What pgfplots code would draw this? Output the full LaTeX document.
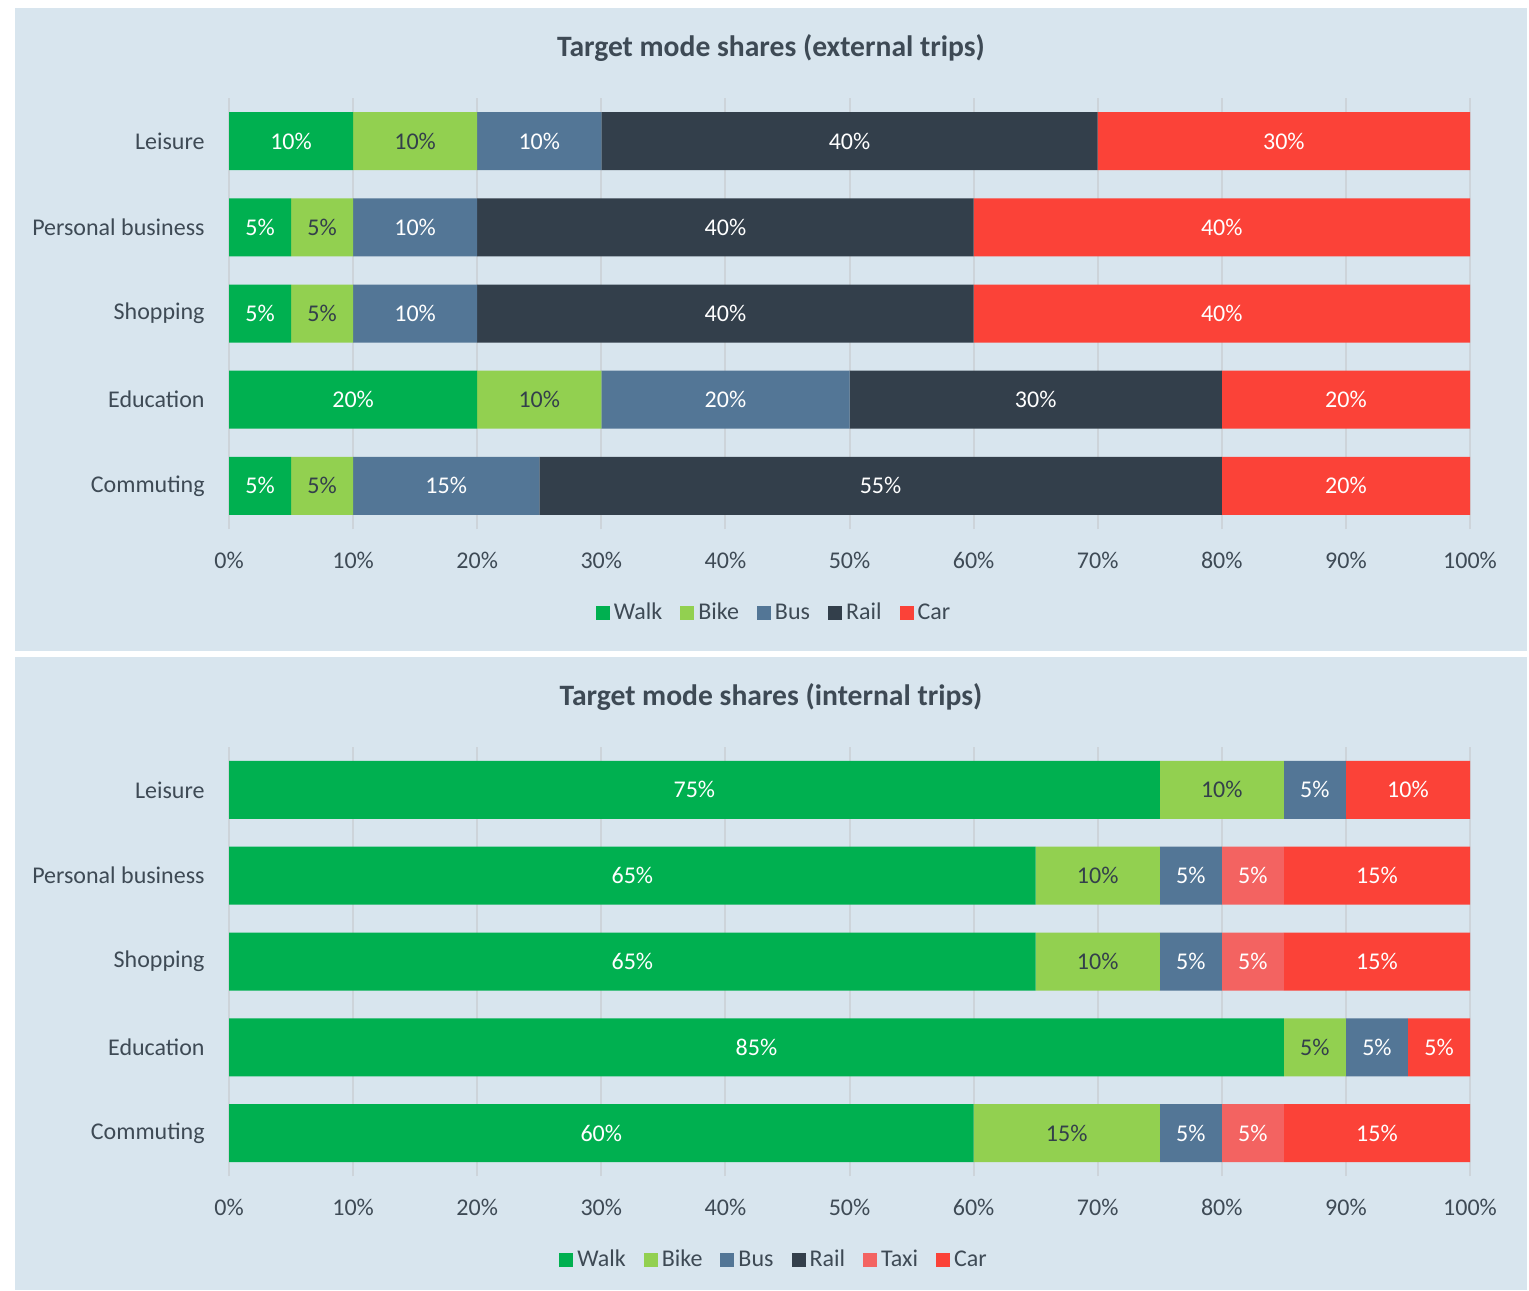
\documentclass[border=0pt]{standalone}
\usepackage{fontspec}
\setmainfont{Carlito}
\usepackage{pgfplots}
\pgfplotsset{compat=1.18}
\usepackage{pgfplotstable}

\definecolor{walkc}{HTML}{00B050}
\definecolor{bikec}{HTML}{92D050}
\definecolor{busc}{HTML}{537696}
\definecolor{railc}{HTML}{333F4B}
\definecolor{taxic}{HTML}{F36361}
\definecolor{carc}{HTML}{FB4238}
\definecolor{bgc}{HTML}{D8E5EE}
\definecolor{gridc}{HTML}{CDD4DA}
\definecolor{textc}{HTML}{3E4A55}

\pgfplotstableread{
cat Walk Bike Bus Rail Car
0 5 5 15 55 20
1 20 10 20 30 20
2 5 5 10 40 40
3 5 5 10 40 40
4 10 10 10 40 30
}\extdata

\pgfplotstableread{
cat Walk Bike Bus Taxi Car
0 60 15 5 5 15
1 85 5 5 0 5
2 65 10 5 5 15
3 65 10 5 5 15
4 75 10 5 0 10
}\intdata

\pgfplotsset{
  sqlegend/.style={legend image code/.code={\fill[##1] (0pt,-3.5pt) rectangle (7pt,3.5pt);}},
  modeaxis/.style={
    xbar stacked,
    scale only axis,
    width=620.5pt,
    xmin=0, xmax=100, ymin=-0.5, ymax=4.5,
    bar width=29pt,
    ytick={0,...,4},
    yticklabels={Commuting,Education,Shopping,Personal business,Leisure},
    xtick={0,10,...,100},
    xticklabel={\pgfmathprintnumber{\tick}\%},
    /pgf/number format/assume math mode=true,
    axis line style={draw=none},
    major tick length=0pt,
    tick style={draw=none},
    xmajorgrids,
    grid style={gridc, line width=1pt},
    tick label style={font=\fontsize{12}{14}\selectfont, text=textc},
    xticklabel style={anchor=center, inner sep=0pt, yshift=-15.5pt},
    yticklabel style={anchor=east, inner sep=0pt, xshift=-12pt},
    visualization depends on={rawx \as \rawx},
    nodes near coords={\ifdim\rawx pt>0.1pt\pgfmathprintnumber{\rawx}\%\fi},
    every node near coord/.append style={font=\fontsize{12}{14}\selectfont, text=white, anchor=center, inner sep=0pt},
    legend columns=-1,
    legend style={draw=none, fill=none, anchor=center, font=\fontsize{12}{14}\selectfont, text=textc,
      /tikz/every even column/.append style={column sep=7pt}},
    every axis plot/.append style={draw=none},
    every axis plot post/.append style={sqlegend},
  }
}

\begin{document}
\begin{tikzpicture}
\path[use as bounding box, fill=white] (0pt,0pt) rectangle (764.5pt,-645pt);
\fill[bgc] (7.5pt,-4pt) rectangle (763.5pt,-325.5pt);
\fill[bgc] (7.5pt,-328.5pt) rectangle (763.5pt,-645pt);
\node[font=\bfseries\fontsize{14.8}{17}\selectfont, text=textc] at (385.5pt,-24pt) {Target mode shares (external trips)};
\node[font=\bfseries\fontsize{14.8}{17}\selectfont, text=textc] at (385.5pt,-348.5pt) {Target mode shares (internal trips)};

\begin{axis}[modeaxis, at={(114.5pt,-49pt)}, anchor=north west, height=215.5pt,
  legend style={at={(0.44,-0.195)}}]
\addplot[fill=walkc] table[x=Walk, y=cat] {\extdata};
\addplot[fill=bikec, every node near coord/.append style={text=railc}] table[x=Bike, y=cat] {\extdata};
\addplot[fill=busc] table[x=Bus, y=cat] {\extdata};
\addplot[fill=railc] table[x=Rail, y=cat] {\extdata};
\addplot[fill=carc] table[x=Car, y=cat] {\extdata};
\legend{Walk,Bike,Bus,Rail,Car}
\end{axis}

\begin{axis}[modeaxis, at={(114.5pt,-373.5pt)}, anchor=north west, height=214.5pt,
  legend style={at={(0.44,-0.196)}}]
\addplot[fill=walkc] table[x=Walk, y=cat] {\intdata};
\addlegendentry{Walk}
\addplot[fill=bikec, every node near coord/.append style={text=railc}] table[x=Bike, y=cat] {\intdata};
\addlegendentry{Bike}
\addplot[fill=busc] table[x=Bus, y=cat] {\intdata};
\addlegendentry{Bus}
\addlegendimage{fill=railc, draw=none, sqlegend}
\addlegendentry{Rail}
\addplot[fill=taxic] table[x=Taxi, y=cat] {\intdata};
\addlegendentry{Taxi}
\addplot[fill=carc] table[x=Car, y=cat] {\intdata};
\addlegendentry{Car}
\end{axis}
\end{tikzpicture}
\end{document}
